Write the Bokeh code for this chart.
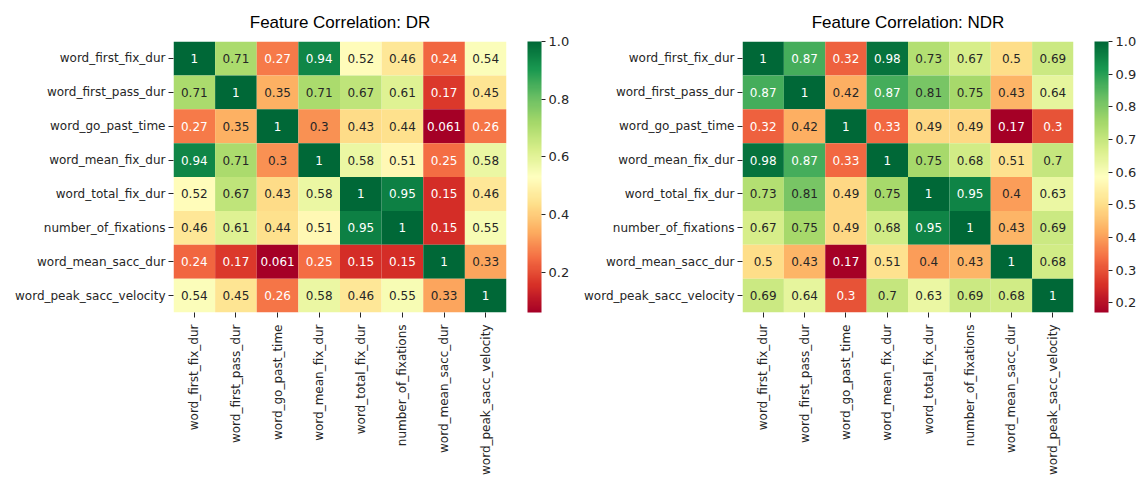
import math
from bokeh.plotting import figure
from bokeh.models import (ColumnDataSource, LinearColorMapper, ColorBar, FixedTicker,
                          NumeralTickFormatter, FactorRange)
from bokeh.layouts import row
from bokeh.core.properties import value
from bokeh.embed import file_html
from bokeh.resources import INLINE

features = ["word_first_fix_dur", "word_first_pass_dur", "word_go_past_time",
            "word_mean_fix_dur", "word_total_fix_dur", "number_of_fixations",
            "word_mean_sacc_dur", "word_peak_sacc_velocity"]

dr_corr = [
    [1, 0.71, 0.27, 0.94, 0.52, 0.46, 0.24, 0.54],
    [0.71, 1, 0.35, 0.71, 0.67, 0.61, 0.17, 0.45],
    [0.27, 0.35, 1, 0.3, 0.43, 0.44, 0.061, 0.26],
    [0.94, 0.71, 0.3, 1, 0.58, 0.51, 0.25, 0.58],
    [0.52, 0.67, 0.43, 0.58, 1, 0.95, 0.15, 0.46],
    [0.46, 0.61, 0.44, 0.51, 0.95, 1, 0.15, 0.55],
    [0.24, 0.17, 0.061, 0.25, 0.15, 0.15, 1, 0.33],
    [0.54, 0.45, 0.26, 0.58, 0.46, 0.55, 0.33, 1],
]

ndr_corr = [
    [1, 0.87, 0.32, 0.98, 0.73, 0.67, 0.5, 0.69],
    [0.87, 1, 0.42, 0.87, 0.81, 0.75, 0.43, 0.64],
    [0.32, 0.42, 1, 0.33, 0.49, 0.49, 0.17, 0.3],
    [0.98, 0.87, 0.33, 1, 0.75, 0.68, 0.51, 0.7],
    [0.73, 0.81, 0.49, 0.75, 1, 0.95, 0.4, 0.63],
    [0.67, 0.75, 0.49, 0.68, 0.95, 1, 0.43, 0.69],
    [0.5, 0.43, 0.17, 0.51, 0.4, 0.43, 1, 0.68],
    [0.69, 0.64, 0.3, 0.7, 0.63, 0.69, 0.68, 1],
]

dr_ticks = [0.2, 0.4, 0.6, 0.8, 1.0]
ndr_ticks = [0.2, 0.3, 0.4, 0.5, 0.6, 0.7, 0.8, 0.9, 1.0]

# matplotlib RdYlGn colormap (ColorBrewer stops), interpolated to 256 colours
_stops = ["#a50026", "#d73027", "#f46d43", "#fdae61", "#fee08b", "#ffffbf",
          "#d9ef8b", "#a6d96a", "#66bd63", "#1a9850", "#006837"]


def _hex2rgb(h):
    return tuple(int(h[i:i + 2], 16) for i in (1, 3, 5))


def _build_palette(n=256):
    rgb = [_hex2rgb(s) for s in _stops]
    out = []
    for k in range(n):
        t = k / (n - 1) * (len(rgb) - 1)
        i = min(int(t), len(rgb) - 2)
        f = t - i
        c = [round(rgb[i][j] + (rgb[i + 1][j] - rgb[i][j]) * f) for j in range(3)]
        out.append("#%02x%02x%02x" % tuple(c))
    return out


PALETTE = _build_palette()
FONT = "DejaVu Sans"
DARK = "#262626"


def _lum(hexc):
    r, g, b = [c / 255 for c in _hex2rgb(hexc)]
    def lin(c):
        return c / 12.92 if c <= 0.03928 else ((c + 0.055) / 1.055) ** 2.4
    return 0.2126 * lin(r) + 0.7152 * lin(g) + 0.0722 * lin(b)


def make_heatmap(matrix, title, ticks, frame_w, left_border, right_border):
    lo = min(min(r) for r in matrix)
    hi = max(max(r) for r in matrix)
    mapper = LinearColorMapper(palette=PALETTE, low=lo, high=hi)
    xs, ys, vals, labels, tcols = [], [], [], [], []
    for i, rname in enumerate(features):
        for j, cname in enumerate(features):
            v = matrix[i][j]
            xs.append(cname)
            ys.append(rname)
            vals.append(v)
            labels.append(format(v, ".2g"))
            idx = int(round((v - lo) / (hi - lo) * (len(PALETTE) - 1)))
            tcols.append("white" if _lum(PALETTE[idx]) < 0.408 else DARK)
    src = ColumnDataSource(dict(x=xs, y=ys, v=vals, label=labels, tc=tcols))

    p = figure(x_range=FactorRange(*features), y_range=FactorRange(*reversed(features)),
               frame_width=frame_w, frame_height=271, output_backend="svg",
               toolbar_location=None, tools="", title=title,
               min_border_left=left_border, min_border_right=right_border,
               min_border_top=41, min_border_bottom=167)
    p.rect(x="x", y="y", width=1, height=1, source=src,
           fill_color={"field": "v", "transform": mapper}, line_color=None)
    p.text(x="x", y="y", text="label", source=src, text_align="center",
           text_baseline="middle", text_color="tc", text_font=value(FONT),
           text_font_size="12px")

    p.title.text_font = "Liberation Sans"
    p.title.text_font_size = "17px"
    p.title.text_font_style = "normal"
    p.title.text_color = "black"
    p.title.align = "center"
    p.title.standoff = 19

    p.outline_line_color = None
    p.grid.grid_line_color = None
    for ax in (p.xaxis[0], p.yaxis[0]):
        ax.axis_line_color = None
        ax.major_tick_in = 0
        ax.major_tick_out = 5
        ax.major_tick_line_color = DARK
        ax.major_label_text_font = FONT
        ax.major_label_text_font_size = "12px"
        ax.major_label_text_color = DARK
    p.yaxis.major_label_standoff = 3
    p.xaxis.major_label_standoff = 7
    p.xaxis.major_label_orientation = math.pi / 2

    cb = ColorBar(color_mapper=mapper, width=14, height=271, padding=0, margin=0,
                  location=(21, 0), ticker=FixedTicker(ticks=ticks),
                  formatter=NumeralTickFormatter(format="0.0"),
                  major_tick_in=0, major_tick_out=4, major_tick_line_color=DARK,
                  minor_tick_line_color=None, bar_line_color=None,
                  major_label_text_font=FONT, major_label_text_font_size="13px",
                  major_label_text_color=DARK, label_standoff=3,
                  background_fill_color=None, border_line_color=None)
    p.add_layout(cb, "right")
    return p


p1 = make_heatmap(dr_corr, "Feature Correlation: DR", dr_ticks, 333, 173, 72)
p2 = make_heatmap(ndr_corr, "Feature Correlation: NDR", ndr_ticks, 331, 164, 67)

layout = row(p1, p2)
open("out.html", "w").write(file_html(layout, INLINE))
